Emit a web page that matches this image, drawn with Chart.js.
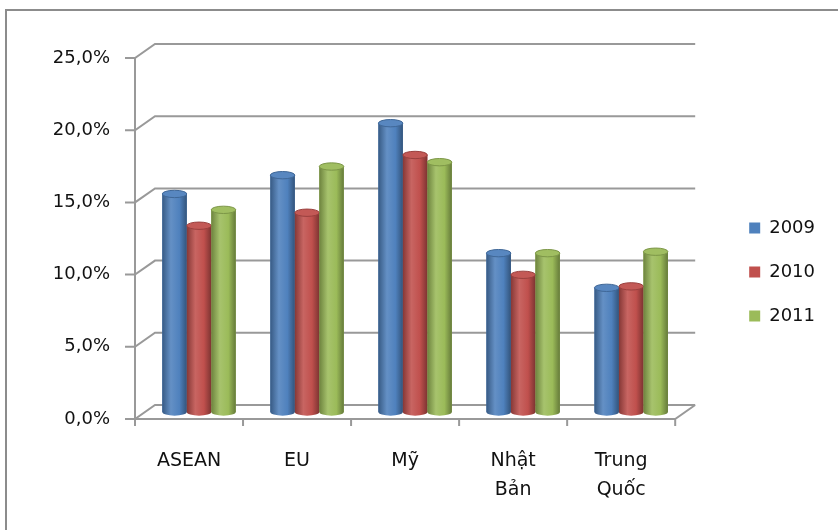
<!DOCTYPE html>
<html>
<head>
<meta charset="utf-8">
<script src="https://cdn.jsdelivr.net/npm/chart.js@4/dist/chart.umd.min.js"></script>
<style>
  html, body { margin: 0; padding: 0; background: #fff; }
</style>
</head>
<body>
<canvas id="chart" width="838" height="530"></canvas>
<script>
// chart data
const categories = ['ASEAN', 'EU', 'Mỹ', ['Nhật', 'Bản'], ['Trung', 'Quốc']];
const years = ['2009', '2010', '2011'];
const values2009 = [15.1, 16.4, 20.0, 11.0, 8.6];
const values2010 = [12.9, 13.8, 17.8, 9.5, 8.7];
const values2011 = [14.0, 17.0, 17.3, 11.0, 11.1];
const yTicks = [0, 5, 10, 15, 20, 25];

const colors = ['#4F81BD', '#C0504D', '#9BBB59'];
const FONT = 'DejaVu Sans';
const DX = 10, DY = 7; // half depth of the 3d box

function shade(hex, f) {
    const n = parseInt(hex.slice(1), 16);
    let r = n >> 16, g = (n >> 8) & 255, b = n & 255;
    const t = f < 0 ? 0 : 255, p = Math.abs(f);
    r = Math.round((t - r) * p + r);
    g = Math.round((t - g) * p + g);
    b = Math.round((t - b) * p + b);
    return `rgb(${r},${g},${b})`;
}

// walls, floor and cylinder look
const frame3d = {
    id: 'frame3d',
    beforeDraw(chart) {
        const ctx = chart.ctx;
        ctx.save();
        ctx.fillStyle = '#fff';
        ctx.fillRect(0, 0, chart.width, chart.height);
        ctx.strokeStyle = '#8c8c8c';
        ctx.lineWidth = 2;
        ctx.beginPath();
        ctx.moveTo(6, chart.height);
        ctx.lineTo(6, 10);
        ctx.lineTo(chart.width, 10);
        ctx.stroke();
        ctx.restore();
    },
    beforeDatasetsDraw(chart) {
        const { ctx, scales: { x, y } } = chart;
        const l = x.left, r = x.right;
        ctx.save();
        ctx.strokeStyle = '#999';
        ctx.lineWidth = 2;
        ctx.beginPath();
        yTicks.forEach(v => {
            const py = y.getPixelForValue(v);
            ctx.moveTo(l - DX - 10, py + DY);
            ctx.lineTo(l - DX, py + DY);
            ctx.lineTo(l + DX, py - DY);
            ctx.lineTo(r + DX, py - DY);
        });
        const top = y.getPixelForValue(25), bot = y.getPixelForValue(0);
        ctx.moveTo(l - DX, top + DY);
        ctx.lineTo(l - DX, bot + DY);
        ctx.lineTo(r - DX, bot + DY);
        ctx.lineTo(r + DX, bot - DY);
        const slot = (r - l) / categories.length;
        for (let i = 0; i <= categories.length; i++) {
            const px = l - DX + i * slot;
            ctx.moveTo(px, bot + DY);
            ctx.lineTo(px, bot + DY + 7);
        }
        ctx.stroke();
        ctx.restore();
    },
    afterDatasetsDraw(chart) {
        const ctx = chart.ctx;
        chart.data.datasets.forEach((ds, di) => {
            const meta = chart.getDatasetMeta(di);
            const c = colors[di];
            meta.data.forEach(bar => {
                const { x, y, base, width } = bar.getProps(['x', 'y', 'base', 'width'], true);
                const w = width, l = x - w / 2, ry = w * 0.15;
                const g = ctx.createLinearGradient(l, 0, l + w, 0);
                g.addColorStop(0, shade(c, -0.3));
                g.addColorStop(0.35, shade(c, 0.12));
                g.addColorStop(0.7, c);
                g.addColorStop(1, shade(c, -0.35));
                ctx.save();
                ctx.fillStyle = g;
                ctx.beginPath();
                ctx.moveTo(l, y);
                ctx.lineTo(l, base);
                ctx.ellipse(x, base, w / 2, ry, 0, Math.PI, 0, true);
                ctx.lineTo(l + w, y);
                ctx.closePath();
                ctx.fill();
                ctx.beginPath();
                ctx.ellipse(x, y, w / 2, ry, 0, 0, Math.PI * 2);
                ctx.fillStyle = shade(c, 0.05);
                ctx.fill();
                ctx.strokeStyle = shade(c, -0.2);
                ctx.lineWidth = 1;
                ctx.stroke();
                ctx.restore();
            });
        });
    }
};

const seriesValues = [values2009, values2010, values2011];

new Chart(document.getElementById('chart').getContext('2d'), {
    type: 'bar',
    data: {
        labels: categories,
        datasets: years.map((yr, i) => ({
            label: yr,
            data: seriesValues[i],
            backgroundColor: colors[i],
            borderWidth: 0,
            categoryPercentage: 0.68,
            barPercentage: 1.0
        }))
    },
    options: {
        responsive: false,
        animation: false,
        devicePixelRatio: 1,
        layout: { padding: { top: 14, bottom: 0, left: 0, right: 13 } },
        plugins: {
            tooltip: { enabled: false },
            legend: {
                position: 'right',
                align: 'center',
                labels: {
                    boxWidth: 11,
                    boxHeight: 11,
                    padding: 26,
                    color: '#111',
                    font: { family: FONT, size: 18 }
                }
            }
        },
        scales: {
            x: {
                grid: { display: false, drawTicks: false },
                border: { display: false },
                ticks: {
                    padding: 35,
                    labelOffset: -DX,
                    maxRotation: 0,
                    autoSkip: false,
                    color: '#111',
                    font: { family: FONT, size: 19, lineHeight: 1.5 }
                },
                afterFit: s => { s.height = 118; }
            },
            gapTop: {
                type: 'linear',
                axis: 'x',
                position: 'top',
                display: true,
                grid: { display: false, drawTicks: false },
                border: { display: false },
                ticks: { display: false },
                afterFit: s => { s.height = 37; }
            },
            y: {
                min: 0,
                max: 25,
                afterBuildTicks: s => { s.ticks = yTicks.map(v => ({ value: v })); },
                grid: { display: false, drawTicks: false },
                border: { display: false },
                ticks: {
                    padding: 35,
                    labelOffset: DY,
                    color: '#111',
                    font: { family: FONT, size: 18 },
                    callback: v => v.toFixed(1).replace('.', ',') + '%'
                },
                afterFit: s => { s.width = 145; }
            },
            gap: {
                type: 'linear',
                axis: 'y',
                position: 'right',
                display: true,
                grid: { display: false, drawTicks: false },
                border: { display: false },
                ticks: { display: false },
                afterFit: s => { s.width = 38; }
            }
        }
    },
    plugins: [frame3d]
});
</script>
</body>
</html>
